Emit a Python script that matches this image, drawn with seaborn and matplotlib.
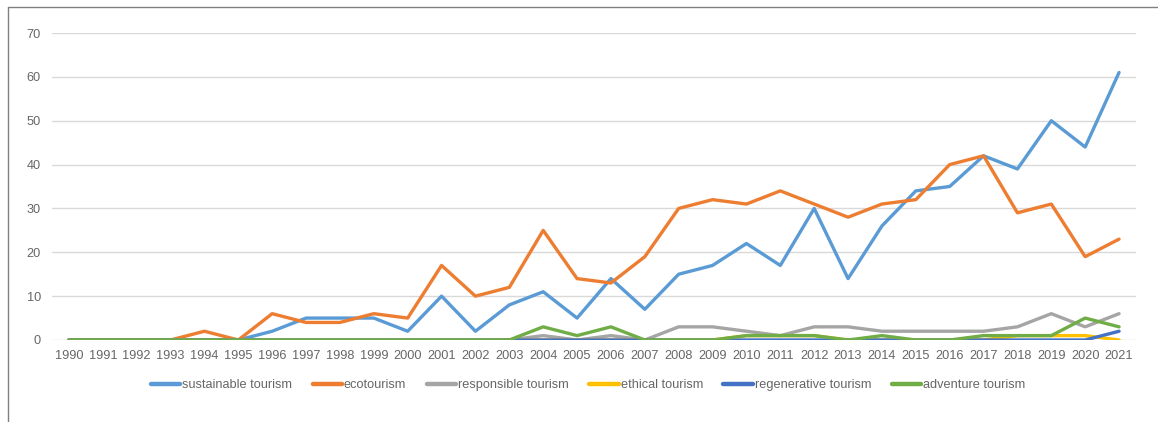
import numpy as np
import pandas as pd
import seaborn as sns
import matplotlib.pyplot as plt
from matplotlib.lines import Line2D

# publications per year per term
years = list(range(1990, 2022))

sustainable = [0, 0, 0, 0, 0, 0, 2, 5, 5, 5, 2, 10, 2, 8, 11, 5, 14, 7, 15, 17,
               22, 17, 30, 14, 26, 34, 35, 42, 39, 50, 44, 61]
ecotourism = [0, 0, 0, 0, 2, 0, 6, 4, 4, 6, 5, 17, 10, 12, 25, 14, 13, 19, 30, 32,
              31, 34, 31, 28, 31, 32, 40, 42, 29, 31, 19, 23]
responsible = [0, 0, 0, 0, 0, 0, 0, 0, 0, 0, 0, 0, 0, 0, 1, 0, 1, 0, 3, 3,
               2, 1, 3, 3, 2, 2, 2, 2, 3, 6, 3, 6]
ethical = [0, 0, 0, 0, 0, 0, 0, 0, 0, 0, 0, 0, 0, 0, 0, 0, 0, 0, 0, 0,
           1, 1, 1, 0, 0, 0, 0, 0, 1, 1, 1, 0]
regenerative = [0, 0, 0, 0, 0, 0, 0, 0, 0, 0, 0, 0, 0, 0, 0, 0, 0, 0, 0, 0,
                0, 0, 0, 0, 0, 0, 0, 0, 0, 0, 0, 2]
adventure = [0, 0, 0, 0, 0, 0, 0, 0, 0, 0, 0, 0, 0, 0, 3, 1, 3, 0, 0, 0,
             1, 1, 1, 0, 1, 0, 0, 1, 1, 1, 5, 3]

terms = ["sustainable tourism", "ecotourism", "responsible tourism",
         "ethical tourism", "regenerative tourism", "adventure tourism"]
colors = ["#5B9BD5", "#ED7D31", "#A5A5A5", "#FFC000", "#4472C4", "#70AD47"]

series = [sustainable, ecotourism, responsible, ethical, regenerative, adventure]
df = pd.concat([pd.DataFrame({"year": years, "count": s, "term": t})
                for s, t in zip(series, terms)], ignore_index=True)

sns.set_style("white")
plt.rcParams["font.family"] = ["Liberation Sans", "DejaVu Sans"]

fig = plt.figure(figsize=(11.58, 4.22), dpi=100)
ax = fig.add_axes([52 / 1158, 82 / 422, 1084 / 1158, 307 / 422])

sns.lineplot(data=df, x="year", y="count", hue="term", hue_order=terms,
             palette=colors, linewidth=2.4, legend=False, ax=ax)

ax.set_xlim(1989.5, 2021.5)
ax.set_ylim(0, 70)
ax.set_xticks(years)
ax.set_xticklabels([str(y) for y in years])
ax.set_yticks(range(0, 80, 10))
ax.yaxis.grid(True, color="#D9D9D9", linewidth=1)
ax.set_axisbelow(True)
for sp in ax.spines.values():
    sp.set_visible(False)
ax.tick_params(axis="both", length=0, labelsize=9.2, colors="#666666")
ax.tick_params(axis="y", pad=8)
ax.tick_params(axis="x", pad=7)
ax.set_xlabel("")
ax.set_ylabel("")

handles = [Line2D([], [], color=c, linewidth=3.2) for c in colors]
fig.legend(handles, terms, loc="center", bbox_to_anchor=(588 / 1158, 1 - 385 / 422),
           ncol=6, frameon=False, fontsize=9.2, handlelength=2.3,
           handletextpad=0.15, columnspacing=1.6, labelcolor="#666666")

# chart area border (left and top edges visible)
fig.add_artist(Line2D([8 / 1158, 8 / 1158], [0, 1 - 7 / 422], transform=fig.transFigure,
                      color="#808080", linewidth=1))
fig.add_artist(Line2D([8 / 1158, 1], [1 - 7 / 422, 1 - 7 / 422], transform=fig.transFigure,
                      color="#808080", linewidth=1))

fig.savefig("out.png", dpi=100)
